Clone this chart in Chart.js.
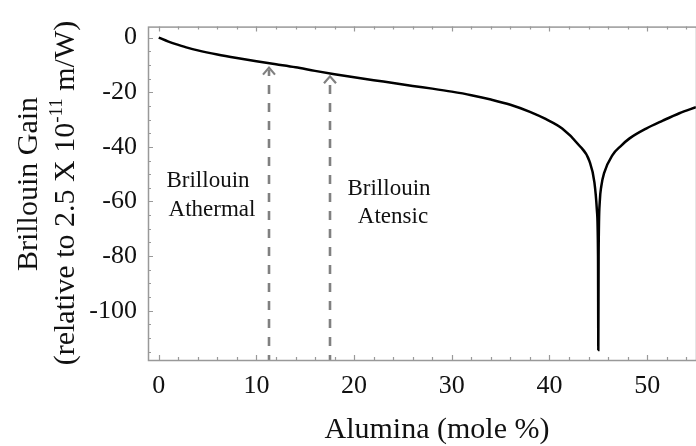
<!DOCTYPE html>
<html>
<head>
<meta charset="utf-8">
<script src="https://cdn.jsdelivr.net/npm/chart.js@4.4.1/dist/chart.umd.min.js"></script>
<style>
html, body { margin: 0; padding: 0; background: #fff; }
#chart { display: block; }
</style>
</head>
<body>
<canvas id="chart" width="696" height="446"></canvas>
<script>
const alumina = [0, 1, 2, 3, 4, 6, 8, 10, 12, 14, 16, 18, 20, 22, 24, 26, 28, 30, 32, 34, 36, 38,
    39.6, 41.3, 43, 44.1, 44.6, 44.85, 44.97, 45, 45.03, 45.15, 45.3, 45.6, 46.45, 47.3, 48.2,
    49.9, 51.6, 53.3, 55];
const gain = [0, -1.5, -2.7, -3.8, -4.7, -6.2, -7.5, -8.7, -9.8, -10.9, -12.2, -13.4, -14.5,
    -15.6, -16.6, -17.7, -18.7, -19.8, -21.1, -22.7, -24.6, -27.2,
    -29.8, -33.3, -39.3, -45.3, -53, -63, -80, -114.3, -80, -60, -54.5, -49.5, -43, -39.7, -36.9,
    -33.3, -30.4, -27.7, -25.5];

const xTicks = [0, 10, 20, 30, 40, 50];
const yTicks = [0, -20, -40, -60, -80, -100];

// dashed arrows pointing at the curve
const arrowAlumina = [11.3, 17.5];
const arrowGain = [-11.0, -14.2];
const noteLines = [['Brillouin', 'Athermal'], ['Brillouin', 'Atensic']];

const serif = "'Liberation Serif', 'Times New Roman', serif";

const decorPlugin = {
    id: 'decor',
    beforeDatasetsDraw(chart) {
        const { ctx, chartArea, scales: { x, y } } = chart;
        ctx.save();
        // arrows
        ctx.strokeStyle = '#808080';
        ctx.lineWidth = 2.6;
        arrowAlumina.forEach((a, i) => {
            const px = Math.round(x.getPixelForValue(a));
            const tip = y.getPixelForValue(arrowGain[i]);
            ctx.setLineDash([9, 9]);
            ctx.lineDashOffset = 4;
            ctx.beginPath();
            ctx.moveTo(px, chartArea.bottom);
            ctx.lineTo(px, tip + 2);
            ctx.stroke();
            ctx.setLineDash([]);
            ctx.lineWidth = 2.2;
            ctx.beginPath();
            ctx.moveTo(px - 6, tip + 7);
            ctx.lineTo(px, tip);
            ctx.lineTo(px + 6, tip + 7);
            ctx.stroke();
            ctx.lineWidth = 2.6;
        });
        // notes
        ctx.fillStyle = '#111';
        ctx.font = '23px ' + serif;
        ctx.textAlign = 'center';
        const notePos = [[208, 187, 212, 216], [389, 195, 393, 223]];
        noteLines.forEach((lines, i) => {
            const p = notePos[i];
            ctx.fillText(lines[0], p[0], p[1]);
            ctx.fillText(lines[1], p[2], p[3]);
        });
        ctx.restore();
    },
    afterDraw(chart) {
        const { ctx, chartArea, scales: { x, y } } = chart;
        const { left, right, top, bottom } = chartArea;
        ctx.save();
        ctx.strokeStyle = '#999';
        ctx.lineWidth = 1.5;
        ctx.strokeRect(left + 0.5, top + 0.5, right - left, bottom - top);
        ctx.lineWidth = 1.2;
        ctx.beginPath();
        for (let v = 0; v <= 55; v += 2) {
            const px = Math.round(x.getPixelForValue(v)) + 0.5;
            const len = v % 10 === 0 ? 5 : 3;
            ctx.moveTo(px, bottom); ctx.lineTo(px, bottom - len);
            ctx.moveTo(px, top); ctx.lineTo(px, top + len);
        }
        for (let v = 0; v >= -115; v -= 5) {
            const py = Math.round(y.getPixelForValue(v)) + 0.5;
            const len = v % 20 === 0 ? 5 : 3;
            ctx.moveTo(left, py); ctx.lineTo(left + len, py);
        }
        ctx.stroke();

        // axis titles
        ctx.fillStyle = '#111';
        ctx.textAlign = 'center';
        ctx.textBaseline = 'alphabetic';
        ctx.font = '30px ' + serif;
        ctx.fillText('Alumina (mole %)', 437, 438);

        ctx.save();
        ctx.translate(37, 184);
        ctx.rotate(-Math.PI / 2);
        ctx.fillText('Brillouin Gain', 0, 0);
        ctx.restore();

        ctx.save();
        ctx.translate(74, 193);
        ctx.rotate(-Math.PI / 2);
        ctx.textAlign = 'left';
        const partA = '(relative to 2.5 X 10';
        const sup = '-11';
        const partB = ' m/W)';
        ctx.font = '30px ' + serif;
        const wA = ctx.measureText(partA).width;
        const wB = ctx.measureText(partB).width;
        ctx.font = '19px ' + serif;
        const wS = ctx.measureText(sup).width;
        let cx = -(wA + wS + wB) / 2;
        ctx.font = '30px ' + serif;
        ctx.fillText(partA, cx, 0);
        cx += wA;
        ctx.font = '19px ' + serif;
        ctx.fillText(sup, cx, -12);
        cx += wS;
        ctx.font = '30px ' + serif;
        ctx.fillText(partB, cx, 0);
        ctx.restore();
        ctx.restore();
    }
};

new Chart(document.getElementById('chart'), {
    type: 'line',
    data: {
        datasets: [{
            data: alumina.map((a, i) => ({ x: a, y: gain[i] })),
            borderColor: '#000',
            borderWidth: 2.5,
            pointRadius: 0,
            cubicInterpolationMode: 'monotone',
            fill: false
        }]
    },
    options: {
        responsive: false,
        animation: false,
        devicePixelRatio: 1,
        layout: { padding: { top: 19, right: 0, left: 0, bottom: 0 } },
        plugins: { legend: { display: false }, tooltip: { enabled: false } },
        scales: {
            x: {
                type: 'linear',
                min: -1.1,
                max: 55,
                afterBuildTicks: s => { s.ticks = xTicks.map(v => ({ value: v })); },
                afterFit: s => { s.height = 86; },
                grid: { display: false, drawTicks: false },
                border: { display: false },
                ticks: { font: { family: serif, size: 26 }, color: '#111', padding: 11, maxRotation: 0 }
            },
            y: {
                type: 'linear',
                min: -118,
                max: 4,
                afterBuildTicks: s => { s.ticks = yTicks.map(v => ({ value: v })); },
                afterFit: s => { s.width = 148; },
                grid: { display: false, drawTicks: false },
                border: { display: false },
                ticks: { font: { family: serif, size: 26 }, color: '#111', padding: 11 }
            }
        }
    },
    plugins: [decorPlugin]
});
</script>
</body>
</html>
